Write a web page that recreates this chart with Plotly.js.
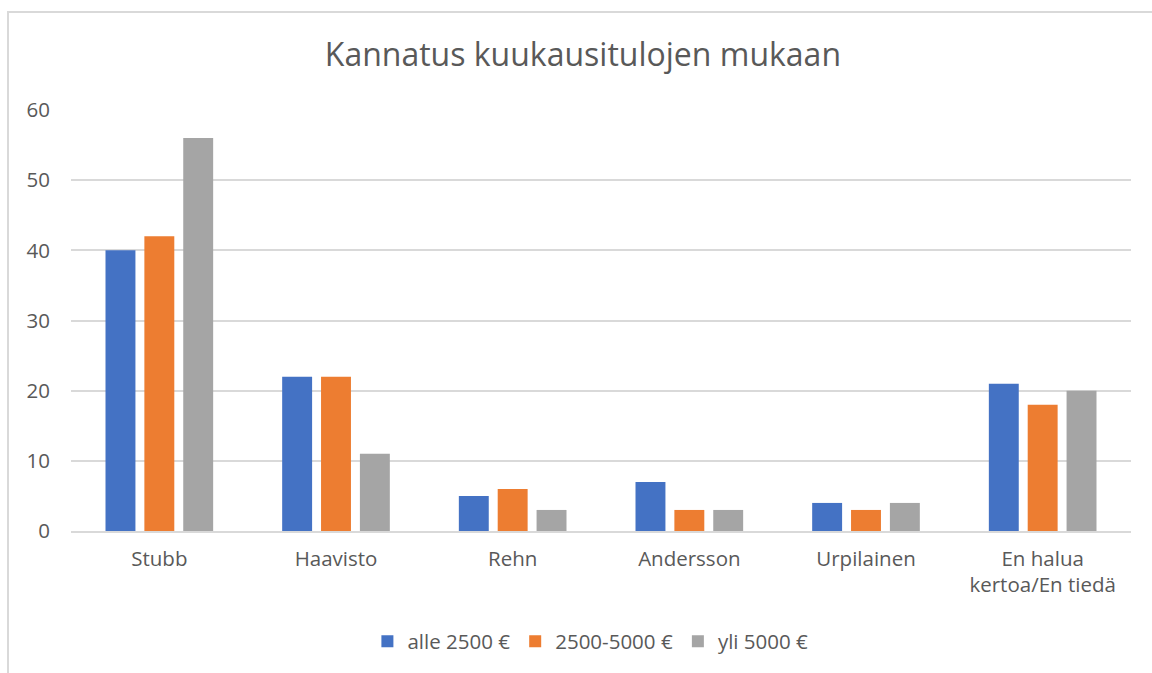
<!DOCTYPE html>
<html>
<head>
<meta charset="utf-8">
<script src="https://cdn.plot.ly/plotly-3.0.1.min.js"></script>
<style>
  html, body { margin: 0; padding: 0; overflow: hidden; background: #fff; }
  #chart { position: absolute; left: 0; top: 0; width: 1152px; height: 673px; }
  #frame { position: absolute; left: 7px; top: 11px; width: 1300px; height: 800px;
           border: 2px solid #d9d9d9; pointer-events: none; z-index: 5; }
</style>
</head>
<body>
<div id="chart"></div>
<div id="frame"></div>
<script>
const categories = ["Stubb", "Haavisto", "Rehn", "Andersson", "Urpilainen", "En halua<br>kertoa/En tiedä"];
const seriesNames = ["alle 2500 €", "2500-5000 €", "yli 5000 €"];
const alle2500 = [40, 22, 5, 7, 4, 21];
const v2500_5000 = [42, 22, 6, 3, 3, 18];
const yli5000 = [56, 11, 3, 3, 4, 20];
const colors = ["#4472C4", "#ED7D31", "#A5A5A5"];

const FONT = "Open Sans, Noto Sans, sans-serif";
const TXT = "#595959";

const data = [alle2500, v2500_5000, yli5000].map((vals, i) => ({
  type: "bar",
  name: seriesNames[i],
  x: categories,
  y: vals,
  marker: { color: colors[i] },
  hoverinfo: "x+y+name"
}));

const layout = {
  width: 1152,
  height: 673,
  paper_bgcolor: "#fff",
  plot_bgcolor: "#fff",
  margin: { l: 71, r: 21, t: 110, b: 142 },
  barmode: "group",
  bargap: 0.34,
  bargroupgap: 0.23,
  font: { family: FONT, color: TXT, size: 21 },
  title: {
    text: "Kannatus kuukausitulojen mukaan",
    font: { family: FONT, size: 32, color: TXT },
    x: 0.506, xanchor: "center",
    y: 0.918, yanchor: "middle"
  },
  xaxis: {
    type: "category",
    showgrid: false,
    showline: true,
    linecolor: "#d9d9d9",
    linewidth: 2,
    ticks: "outside",
    ticklen: 8,
    tickcolor: "rgba(0,0,0,0)",
    tickfont: { family: FONT, size: 20.5, color: TXT },
    fixedrange: true
  },
  yaxis: {
    range: [0, 60],
    dtick: 10,
    showgrid: true,
    gridcolor: "#d9d9d9",
    gridwidth: 1.5,
    zeroline: false,
    showline: false,
    ticks: "",
    ticklabelstandoff: 20,
    tickfont: { family: FONT, size: 20.5, color: TXT },
    fixedrange: true
  },
  legend: {
    orientation: "h",
    x: 0.49, xanchor: "center",
    y: -0.2625, yanchor: "middle",
    font: { family: FONT, size: 20.5, color: TXT },
    itemwidth: 30,
    traceorder: "normal"
  },
  showlegend: true
};

Plotly.newPlot("chart", data, layout, { displayModeBar: false });
</script>
</body>
</html>
